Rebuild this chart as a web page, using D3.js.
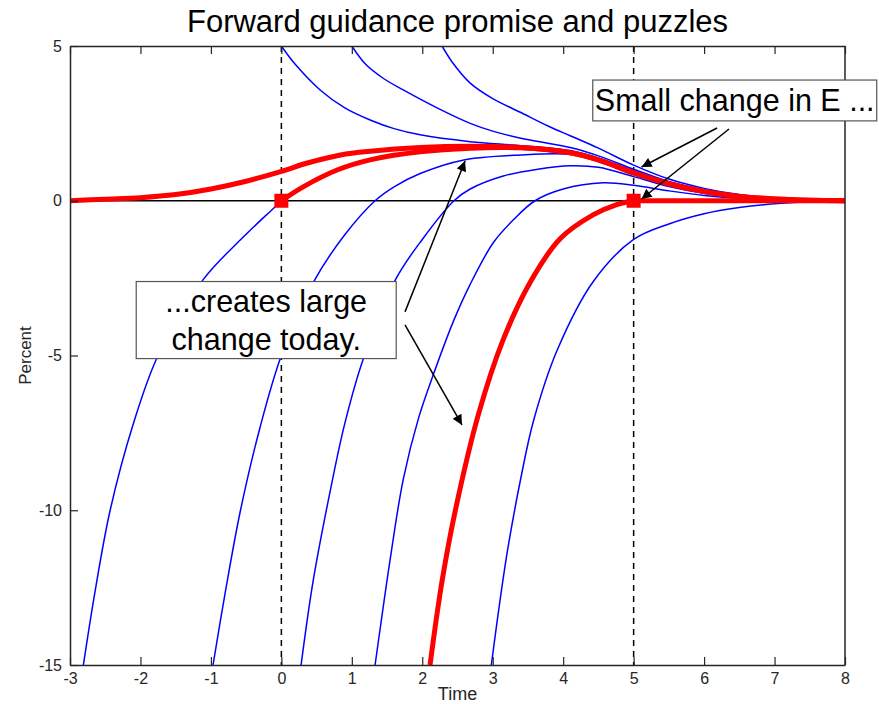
<!DOCTYPE html>
<html>
<head>
<meta charset="utf-8">
<script src="https://cdn.jsdelivr.net/npm/d3@7"></script>
<style>
  body { margin: 0; background: #fff; }
  svg { display: block; font-family: "Liberation Sans", Arial, Helvetica, sans-serif; }
</style>
</head>
<body>
<div id="chart"></div>
<script>
// ticks
const xTicks = [-3, -2, -1, 0, 1, 2, 3, 4, 5, 6, 7, 8];
const yTicks = [-15, -10, -5, 0, 5];
const dashedTimes = [0, 5];
const squarePoints = [[0, 0], [5, 0]];

// blue paths coming down from the top
const blueTop0 = [[0, 5], [0.2, 4.4], [0.55, 3.58], [0.9, 3.0], [1.26, 2.61], [1.6, 2.33], [1.97, 2.13], [2.68, 1.91], [3.4, 1.78], [4.1, 1.62], [4.5, 1.38], [5, 0.97], [5.5, 0.6], [6, 0.33], [6.5, 0.16], [7, 0.07], [7.5, 0.025], [8, 0]];
const blueTop1 = [[1, 5], [1.2, 4.4], [1.45, 3.95], [1.73, 3.58], [2.21, 3.0], [2.68, 2.5], [3.0, 2.25], [3.4, 2.02], [3.8, 1.85], [4.1, 1.72], [4.5, 1.45], [5, 1.02], [5.5, 0.62], [6, 0.35], [6.5, 0.17], [7, 0.08], [7.5, 0.03], [8, 0]];
const blueTop2 = [[2.28, 5], [2.45, 4.4], [2.68, 3.8], [3.0, 3.3], [3.4, 2.85], [3.8, 2.4], [4.1, 2.1], [4.5, 1.7], [5, 1.15], [5.5, 0.7], [6, 0.4], [6.5, 0.2], [7, 0.09], [7.5, 0.03], [8, 0]];

// blue paths coming up from the bottom
const blueLow1 = [[-2.81, -15], [-2.65, -12.7], [-2.43, -10], [-2.1, -7.2], [-1.75, -5], [-1.11, -2.55], [-0.58, -1.26], [-0.11, -0.24], [0, 0]];
const blueLow2 = [[-0.97, -15], [-0.8, -12.7], [-0.58, -10], [-0.3, -7.3], [0, -5.0], [0.45, -2.65], [0.9, -1.1], [1.33, 0], [1.6, 0.45], [1.97, 0.88], [2.59, 1.32], [3.39, 1.48], [4.1, 1.5], [4.5, 1.3], [5, 0.85], [5.5, 0.5], [6, 0.27], [6.5, 0.13], [7, 0.055], [7.5, 0.02], [8, 0]];
const blueLow3 = [[0.28, -15], [0.45, -12.3], [0.7, -9.3], [0.9, -7.2], [1.16, -5.13], [1.62, -2.55], [2.0, -1.25], [2.45, 0], [2.68, 0.38], [3.15, 0.8], [3.64, 1.02], [4.1, 1.13], [4.5, 1.08], [5, 0.78], [5.5, 0.46], [6, 0.24], [6.5, 0.11], [7, 0.05], [7.5, 0.015], [8, 0]];
const blueLow4 = [[1.33, -15], [1.41, -13.7], [1.55, -11.5], [1.73, -9.0], [1.95, -7.0], [2.16, -5.6], [2.45, -3.85], [2.68, -2.7], [3.01, -1.35], [3.3, -0.6], [3.6, 0], [4.0, 0.38], [4.57, 0.58], [5, 0.5], [5.5, 0.32], [6, 0.17], [6.5, 0.08], [7, 0.035], [7.5, 0.01], [8, 0]];
const blueLow5 = [[2.98, -15], [3.08, -13.3], [3.21, -11.3], [3.4, -8.95], [3.58, -7.1], [3.92, -4.8], [4.43, -2.6], [5, -1.25], [5.5, -0.75], [6, -0.42], [6.5, -0.22], [7, -0.1], [7.5, -0.035], [8, 0]];

// red paths
const redPromise = [[-3, 0], [-2.5, 0.05], [-2, 0.1], [-1.5, 0.2], [-1, 0.38], [-0.5, 0.63], [0, 0.95], [0.37, 1.22], [0.84, 1.48], [1.26, 1.6], [1.97, 1.72], [2.68, 1.76], [3.4, 1.72], [4.1, 1.55], [4.5, 1.32], [5, 0.9], [5.5, 0.55], [6, 0.3], [6.5, 0.14], [7, 0.06], [7.5, 0.02], [8, 0]];
const redFromZero = [[0, 0], [0.31, 0.45], [0.8, 1.0], [1.26, 1.32], [1.97, 1.58], [2.68, 1.7], [3.4, 1.71], [4.1, 1.55], [4.5, 1.32], [5, 0.9], [5.5, 0.55], [6, 0.3], [6.5, 0.14], [7, 0.06], [7.5, 0.02], [8, 0]];
const redLate = [[2.11, -15], [2.28, -12.3], [2.47, -10], [2.8, -6.88], [3.15, -4.48], [3.54, -2.6], [3.96, -1.22], [4.43, -0.45], [4.75, -0.13], [5, 0]];
const redLateFlat = [[5, 0], [8, 0]];

const blueCurves = [blueTop0, blueTop1, blueTop2, blueLow1, blueLow2, blueLow3, blueLow4, blueLow5];
const redCurves = [redPromise, redFromZero, redLate, redLateFlat];

// annotations, in data units
const boxes = [
  { x0: 4.42, x1: 8.45, y0: 3.9, y1: 2.58, lines: ["Small change in E ..."] },
  { x0: -2.06, x1: 1.63, y0: -2.61, y1: -5.1, lines: ["...creates large", "change today."] },
];
const arrows = [
  { from: [1.755, -3.59], to: [2.607, 1.284] },
  { from: [1.755, -4.01], to: [2.564, -7.245] },
  { from: [6.184, 2.35], to: [5.112, 1.09] },
  { from: [6.354, 2.318], to: [5.112, 0.057] },
];

const W = 879, H = 704;
const margin = { top: 46, right: 34, bottom: 39, left: 70 };
const axisColor = "#262626";

const x = d3.scaleLinear().domain([-3, 8]).range([margin.left, W - margin.right]);
const y = d3.scaleLinear().domain([-15, 5]).range([H - margin.bottom, margin.top]);

const svg = d3.select("#chart").append("svg")
  .attr("width", W)
  .attr("height", H);

const defs = svg.append("defs");

defs.append("clipPath")
  .attr("id", "plot-clip")
  .append("rect")
  .attr("x", margin.left)
  .attr("y", margin.top)
  .attr("width", W - margin.left - margin.right)
  .attr("height", H - margin.top - margin.bottom);

defs.append("marker")
  .attr("id", "head")
  .attr("markerUnits", "userSpaceOnUse")
  .attr("viewBox", "0 0 10 10")
  .attr("refX", 10)
  .attr("refY", 5)
  .attr("markerWidth", 12)
  .attr("markerHeight", 10)
  .attr("orient", "auto")
  .append("path")
  .attr("d", "M0,0 L10,5 L0,10 Z")
  .attr("fill", "#000");

const plot = svg.append("g").attr("clip-path", "url(#plot-clip)");

// zero line
plot.append("line")
  .attr("x1", x(-3)).attr("x2", x(8))
  .attr("y1", y(0)).attr("y2", y(0))
  .attr("stroke", "#000")
  .attr("stroke-width", 1.5);

// dashed verticals
plot.selectAll(".vdash")
  .data(dashedTimes)
  .enter()
  .append("line")
  .attr("x1", (d) => x(d)).attr("x2", (d) => x(d))
  .attr("y1", y(5)).attr("y2", y(-15))
  .attr("stroke", "#000")
  .attr("stroke-width", 1.5)
  .attr("stroke-dasharray", "6,5");

const line = d3.line()
  .x((d) => x(d[0]))
  .y((d) => y(d[1]))
  .curve(d3.curveCatmullRom.alpha(0.5));

plot.selectAll(".blue")
  .data(blueCurves)
  .enter()
  .append("path")
  .attr("fill", "none")
  .attr("stroke", "#0000ff")
  .attr("stroke-width", 1.5)
  .attr("d", line);

plot.selectAll(".red")
  .data(redCurves)
  .enter()
  .append("path")
  .attr("fill", "none")
  .attr("stroke", "#ff0000")
  .attr("stroke-width", 5)
  .attr("stroke-linejoin", "round")
  .attr("d", line);

svg.selectAll(".sq")
  .data(squarePoints)
  .enter()
  .append("rect")
  .attr("x", (d) => x(d[0]) - 7)
  .attr("y", (d) => y(d[1]) - 7)
  .attr("width", 14)
  .attr("height", 14)
  .attr("fill", "#ff0000");

// axes
const styleAxis = (g) => {
  g.select(".domain").attr("stroke", axisColor).attr("stroke-width", 1.5);
  g.selectAll(".tick line").attr("stroke", axisColor).attr("stroke-width", 1.2);
  g.selectAll(".tick text").attr("fill", axisColor).style("font-size", "16px");
};

svg.append("g")
  .attr("transform", `translate(0,${y(-15)})`)
  .call(d3.axisBottom(x).tickValues(xTicks).tickSize(-8).tickSizeOuter(0).tickPadding(8).tickFormat((d) => String(d)))
  .call(styleAxis);

svg.append("g")
  .attr("transform", `translate(0,${y(5)})`)
  .call(d3.axisTop(x).tickValues(xTicks).tickSize(-8).tickSizeOuter(0).tickFormat(""))
  .call(styleAxis);

svg.append("g")
  .attr("transform", `translate(${x(-3)},0)`)
  .call(d3.axisLeft(y).tickValues(yTicks).tickSize(-8).tickSizeOuter(0).tickPadding(8).tickFormat((d) => String(d)))
  .call(styleAxis);

svg.append("line")
  .attr("x1", x(8)).attr("x2", x(8))
  .attr("y1", y(5)).attr("y2", y(-15))
  .attr("stroke", axisColor)
  .attr("stroke-width", 1.5);

// titles
svg.append("text")
  .attr("x", (x(-3) + x(8)) / 2)
  .attr("y", 32)
  .attr("text-anchor", "middle")
  .style("font-size", "31px")
  .attr("fill", "#000")
  .text("Forward guidance promise and puzzles");

svg.append("text")
  .attr("x", (x(-3) + x(8)) / 2)
  .attr("y", 700)
  .attr("text-anchor", "middle")
  .style("font-size", "18px")
  .attr("fill", axisColor)
  .text("Time");

svg.append("text")
  .attr("transform", `translate(31,${(y(5) + y(-15)) / 2}) rotate(-90)`)
  .attr("text-anchor", "middle")
  .style("font-size", "17px")
  .attr("fill", axisColor)
  .text("Percent");

// annotation boxes
const ann = svg.append("g");
boxes.forEach((b) => {
  const bx = x(b.x0), by = y(b.y0);
  const bw = x(b.x1) - bx, bh = y(b.y1) - by;
  ann.append("rect")
    .attr("x", bx).attr("y", by)
    .attr("width", bw).attr("height", bh)
    .attr("fill", "#fff")
    .attr("stroke", "#555")
    .attr("stroke-width", 1.2);
  const lh = bh / b.lines.length;
  b.lines.forEach((t, i) => {
    ann.append("text")
      .attr("x", bx + bw / 2)
      .attr("y", by + lh * i + lh / 2)
      .attr("dy", "0.36em")
      .attr("text-anchor", "middle")
      .style("font-size", "30.5px")
      .attr("fill", "#000")
      .text(t);
  });
});

ann.selectAll(".arrow")
  .data(arrows)
  .enter()
  .append("line")
  .attr("x1", (d) => x(d.from[0]))
  .attr("y1", (d) => y(d.from[1]))
  .attr("x2", (d) => x(d.to[0]))
  .attr("y2", (d) => y(d.to[1]))
  .attr("stroke", "#000")
  .attr("stroke-width", 1.5)
  .attr("marker-end", "url(#head)");
</script>
</body>
</html>
